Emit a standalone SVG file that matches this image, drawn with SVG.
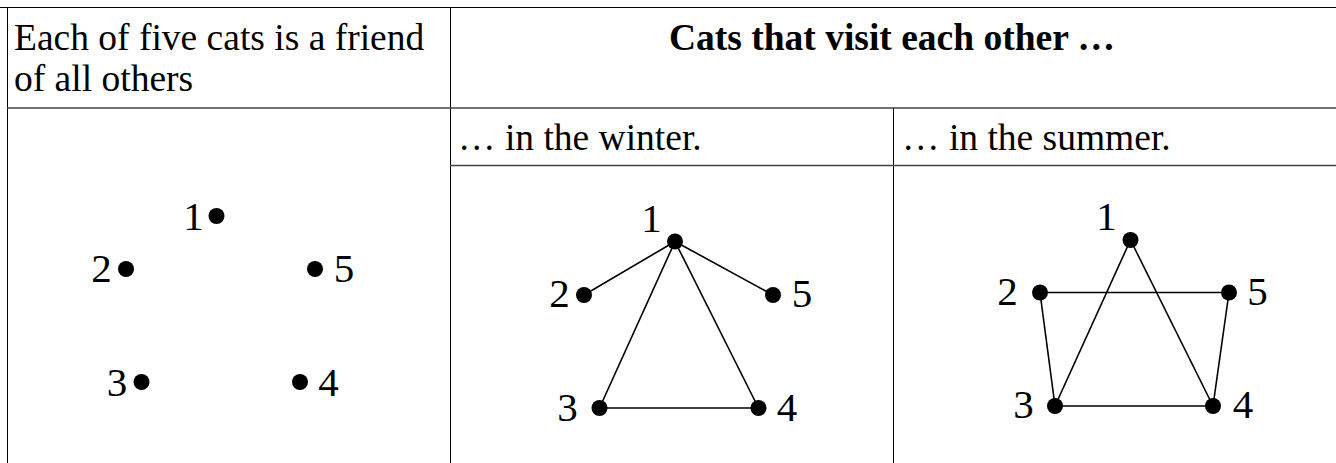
<svg xmlns="http://www.w3.org/2000/svg" width="1336" height="463" viewBox="0 0 1336 463">
<style>
.t{font-family:"Liberation Serif","Times New Roman",serif;font-size:37.5px;fill:#000}
.b{font-weight:bold}
.n{font-family:"Liberation Serif","Times New Roman",serif;font-size:41px;fill:#000;text-anchor:middle}
.v{stroke:#000;stroke-width:1}
.h{stroke:#444;stroke-width:1.5}
.e{stroke:#000;stroke-width:1.6;fill:none}
.d{fill:#000}
</style>
<rect width="1336" height="463" fill="#fff"/>
<g id="table">
<line class="v" x1="0" y1="7.5" x2="1336" y2="7.5"/>
<line class="v" x1="7.5" y1="7" x2="7.5" y2="463"/>
<line class="v" x1="450.5" y1="7" x2="450.5" y2="463"/>
<line class="v" x1="893.5" y1="108" x2="893.5" y2="463"/>
<line class="h" x1="7" y1="108" x2="1336" y2="108"/>
<line class="h" x1="450" y1="165.5" x2="1336" y2="165.5"/>
<text class="t" x="14" y="50">Each of five cats is a friend</text>
<text class="t" x="14" y="91">of all others</text>
<text class="t b" x="892" y="50" text-anchor="middle">Cats that visit each other …</text>
<text class="t" x="458" y="150">… in the winter.</text>
<text class="t" x="902" y="150">… in the summer.</text>
</g>
<g id="connectors">
<line class="e" x1="675" y1="241.5" x2="584" y2="295"/>
<line class="e" x1="675" y1="241.5" x2="773" y2="295"/>
<line class="e" x1="675" y1="241.5" x2="599.5" y2="408"/>
<line class="e" x1="675" y1="241.5" x2="758.5" y2="408"/>
<line class="e" x1="599.5" y1="408" x2="758.5" y2="408"/>
<line class="e" x1="1130.5" y1="240" x2="1055" y2="406"/>
<line class="e" x1="1130.5" y1="240" x2="1213" y2="406"/>
<line class="e" x1="1040" y1="292.5" x2="1229" y2="292.5"/>
<line class="e" x1="1040" y1="292.5" x2="1055" y2="406"/>
<line class="e" x1="1229" y1="292.5" x2="1213" y2="406"/>
<line class="e" x1="1055" y1="406" x2="1213" y2="406"/>
</g>
<g id="all-1"><circle class="d" cx="216.5" cy="216" r="8"/><text class="n" x="193.5" y="230">1</text></g>
<g id="all-2"><circle class="d" cx="126" cy="269" r="8"/><text class="n" x="101.5" y="281.5">2</text></g>
<g id="all-5"><circle class="d" cx="315" cy="269" r="8"/><text class="n" x="344" y="281.5">5</text></g>
<g id="all-3"><circle class="d" cx="141.5" cy="382" r="8"/><text class="n" x="117" y="396">3</text></g>
<g id="all-4"><circle class="d" cx="300" cy="382" r="8"/><text class="n" x="328.5" y="396">4</text></g>
<g id="winter-1"><circle class="d" cx="675" cy="241.5" r="8"/><text class="n" x="651.5" y="232">1</text></g>
<g id="winter-2"><circle class="d" cx="584" cy="295" r="8"/><text class="n" x="559.5" y="307">2</text></g>
<g id="winter-5"><circle class="d" cx="773" cy="295" r="8"/><text class="n" x="802" y="307">5</text></g>
<g id="winter-3"><circle class="d" cx="599.5" cy="408" r="8"/><text class="n" x="567.5" y="420.5">3</text></g>
<g id="winter-4"><circle class="d" cx="758.5" cy="408" r="8"/><text class="n" x="787" y="420.5">4</text></g>
<g id="summer-1"><circle class="d" cx="1130.5" cy="240" r="8"/><text class="n" x="1106.5" y="230">1</text></g>
<g id="summer-2"><circle class="d" cx="1040" cy="292.5" r="8"/><text class="n" x="1007.5" y="305">2</text></g>
<g id="summer-5"><circle class="d" cx="1229" cy="292.5" r="8"/><text class="n" x="1257.5" y="305">5</text></g>
<g id="summer-3"><circle class="d" cx="1055" cy="406" r="8"/><text class="n" x="1023.5" y="418">3</text></g>
<g id="summer-4"><circle class="d" cx="1213" cy="406" r="8"/><text class="n" x="1243" y="418">4</text></g>
</svg>
